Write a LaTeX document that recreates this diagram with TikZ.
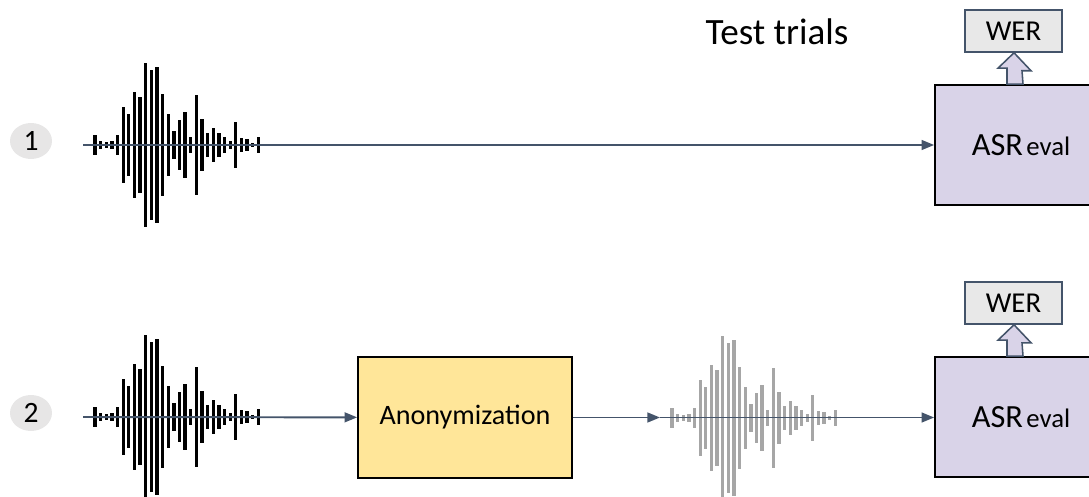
\documentclass[tikz,border=0pt]{standalone}
\usepackage{fontspec}
\setmainfont{Carlito}
\usetikzlibrary{arrows.meta}
\usetikzlibrary{calc}
\usetikzlibrary{positioning}
\usetikzlibrary{shapes.geometric}
\definecolor{trline}{HTML}{44546A}
\definecolor{trasr}{HTML}{D9D3E8}
\definecolor{tranon}{HTML}{FFE699}
\definecolor{trwer}{HTML}{E8E8E8}
\definecolor{trnum}{HTML}{E7E6E6}
\definecolor{trfaded}{HTML}{A6A6A6}
\newcommand{\pxu}{0.025cm}
% one speech waveform: bars around a baseline, #1 = left x, #2 = baseline y
\newcommand{\speechwave}[3]{%
  \foreach \h [count=\i from 0] in
    {10,4,3,4,10,38,31,53,48,82,75,78,51,31,14,25,33,8,50,26,12,17,12,8,4,23,7,6,2,8}
    \fill[#3] ({#1+\i*5.63-1.6},{#2-\h}) rectangle ++(3.3,{2*\h});
}
\newcommand{\asrlabel}{ASR\hspace{2.5pt}{\fontsize{19}{22}\selectfont eval}}
\tikzset{
  trflow/.style={draw=trline, line width=1.4pt,
    -{Triangle[length=9pt, width=7pt]}},
  trbox/.style={draw=black, line width=1.2pt, inner sep=0pt},
  trasrbox/.style={trbox, fill=trasr, minimum width={172*\pxu},
    minimum height={120*\pxu}, font=\fontsize{23}{26}\selectfont},
  trwerbox/.style={draw=trline, fill=trwer, line width=1.1pt,
    minimum width={97*\pxu}, minimum height={42*\pxu},
    font=\fontsize{20.5}{22}\selectfont},
  trblock/.style={draw=trline, fill=trasr, line width=1.1pt, line join=miter},
  trnumber/.style={ellipse, fill=trnum, minimum width={42*\pxu},
    minimum height={36*\pxu}, inner sep=0pt,
    font=\fontsize{21}{24}\selectfont},
}

\begin{document}
\begin{tikzpicture}[x=0.025cm, y=-0.025cm]
\clip (0,0) rectangle (1089,497);

% Header.
\node[font=\fontsize{26.4}{30}\selectfont] (title) at (777,32) {Test trials};

% Row 1: original speech straight into the recognizer.
\node[trnumber] (num1) at (31,141) {1};
\speechwave{95}{145}{black}
\coordinate (start1) at (83,145);
\node[trasrbox] (asr1) at (1021,145) {\asrlabel};
\node[trwerbox] (wer1) at (1013.5,31) {WER};
\draw[trflow] (start1) -- (start1 -| asr1.west);
\draw[trblock] ([xshift={-14*\pxu}]asr1.north) -- ++(0,-16) -- ++(-9,0)
  -- ([xshift={0.5*\pxu}]wer1.south) -- ++(17,18) -- ++(-9,0)
  -- ([xshift={2*\pxu}]asr1.north) -- cycle;

% Row 2: speech goes through anonymization first.
\node[trnumber] (num2) at (31,413) {2};
\speechwave{95}{417}{black}
\coordinate (start2) at (83,417);
\node[trbox, fill=tranon, minimum width={214*\pxu}, minimum height={121*\pxu},
      font=\fontsize{20}{24}\selectfont] (anon) at (465,417.5) {Anonymization};
\speechwave{672}{418}{trfaded}
\coordinate (wave2) at (660,417.5);
\node[trasrbox] (asr2) at (1021,417) {\asrlabel};
\node[trwerbox] (wer2) at (1013.5,303) {WER};
\draw[trflow] (start2) -- (anon);
\draw[trflow] (anon) -- (wave2);
\draw[trflow] (wave2) -- (wave2 -| asr2.west);
\draw[trblock] ([xshift={-14*\pxu}]asr2.north) -- ++(0,-16) -- ++(-9,0)
  -- ([xshift={0.5*\pxu}]wer2.south) -- ++(17,18) -- ++(-9,0)
  -- ([xshift={2*\pxu}]asr2.north) -- cycle;

\end{tikzpicture}
\end{document}
